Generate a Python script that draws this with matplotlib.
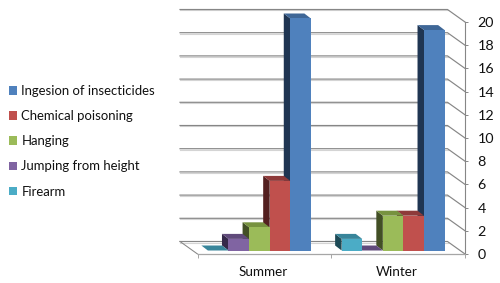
import matplotlib
matplotlib.use("Agg")
import matplotlib.pyplot as plt
from matplotlib.patches import Patch, Polygon

# Data
categories = ["Summer", "Winter"]
series_names = ["Firearm", "Jumping from height", "Hanging", "Chemical poisoning", "Ingesion of insecticides"]
firearm = [0, 1]
jumping = [1, 0]
hanging = [2, 3]
chemical = [6, 3]
insecticides = [20, 19]
series_values = [firearm, jumping, hanging, chemical, insecticides]
y_ticks = list(range(0, 21, 2))

# Styles
front_colors = ["#4BACC6", "#8064A2", "#9BBB59", "#C0504D", "#4F81BD"]
side_colors = ["#1D4A56", "#35294A", "#424F25", "#532020", "#1F3552"]
top_colors = ["#38859A", "#604A7B", "#77923F", "#8E3A3A", "#3F6797"]
GRID = "#868686"
SHADOW = "#d4d4d4"

fig = plt.figure(figsize=(5.0, 2.83), dpi=100, facecolor="white")
plt.rcParams["font.family"] = ["Lato", "DejaVu Sans"]
L, R, T, B = 197.5, 465.0, 22.0, 254.0
ax = fig.add_axes([L / 500, (283 - B) / 283, (R - L) / 500, (B - T) / 283])
ax.set_xlim(0, 2)
ax.set_ylim(0, 20)
ux = (R - L) / 2
uy = (B - T) / 20

# 3D offsets, converted from pixels to data units
wall_dx, wall_dy = 17.5 / ux, 12.5 / uy
bar_dx, bar_dy = 5.0 / ux, 3.5 / uy
depth_dx, depth_dy = 6.5 / ux, 5.0 / uy
bar_w = 20.6 / ux

# Back wall gridlines with diagonal wall lines
for v in y_ticks:
    ax.plot([0 - wall_dx, 2 - wall_dx], [v + wall_dy - 1 / uy] * 2, color=SHADOW, lw=0.8, clip_on=False, zorder=1)
    ax.plot([0 - wall_dx, 2 - wall_dx, 2], [v + wall_dy, v + wall_dy, v], color=GRID, lw=0.85, clip_on=False, zorder=2)
ax.plot([-wall_dx, 0], [wall_dy, 0], color=GRID, lw=0.75, clip_on=False, zorder=2)

# Bars: right-most series drawn first so nearer fronts overlap sides
z = 3
for g in range(len(categories)):
    for s in range(len(series_values) - 1, -1, -1):
        h = series_values[s][g]
        x0 = g + 0.5 - bar_dx + (s - 2.5) * bar_w
        x1 = x0 + bar_w
        y0, y1 = bar_dy, bar_dy + h
        ax.add_patch(Polygon([(x0, y0), (x0 - depth_dx, y0 + depth_dy), (x0 - depth_dx, y1 + depth_dy), (x0, y1)],
                             closed=True, fc=side_colors[s], ec="none", clip_on=False, zorder=z))
        ax.add_patch(Polygon([(x0, y1), (x0 - depth_dx, y1 + depth_dy), (x1 - depth_dx, y1 + depth_dy), (x1, y1)],
                             closed=True, fc=top_colors[s], ec="none", clip_on=False, zorder=z))
        if h > 0:
            ax.bar(x0, h, width=bar_w, bottom=y0, align="edge", color=front_colors[s], clip_on=False, zorder=z + 0.5)
        z += 1

# Axes
for name in ("top", "left"):
    ax.spines[name].set_visible(False)
ax.spines["right"].set_color(GRID)
ax.spines["right"].set_linewidth(0.8)
ax.spines["bottom"].set_color("#a6a6a6")
ax.spines["bottom"].set_linewidth(0.9)
ax.patch.set_alpha(0)
ax.yaxis.tick_right()
ax.set_yticks(y_ticks)
ax.set_yticklabels([str(v) for v in y_ticks])
ax.tick_params(axis="y", length=2.4, width=0.7, color=GRID, pad=6.5, labelsize=10.3, labelcolor="#111111")
ax.set_xticks([0, 1, 2])
ax.set_xticklabels([])
ax.tick_params(axis="x", which="major", length=3, width=0.7, color="#a6a6a6")
ax.set_xticks([0.5 - 1.5 / ux, 1.5 - 1.0 / ux], minor=True)
ax.set_xticklabels(categories, minor=True)
ax.tick_params(axis="x", which="minor", length=0, pad=9, labelsize=9.7, labelcolor="#111111")

# Legend, in reverse series order
handles = [Patch(fc=front_colors[s], ec="none", label=series_names[s]) for s in range(len(series_names) - 1, -1, -1)]
fig.legend(handles=handles, loc="upper left", bbox_to_anchor=(9 / 500, 1 - 85 / 283), borderaxespad=0, borderpad=0,
           frameon=False, fontsize=9.45, handlelength=0.62, handleheight=0.62, handletextpad=0.33, labelspacing=1.0,
           labelcolor="#111111")

fig.savefig("out.png", dpi=100, facecolor="white")
